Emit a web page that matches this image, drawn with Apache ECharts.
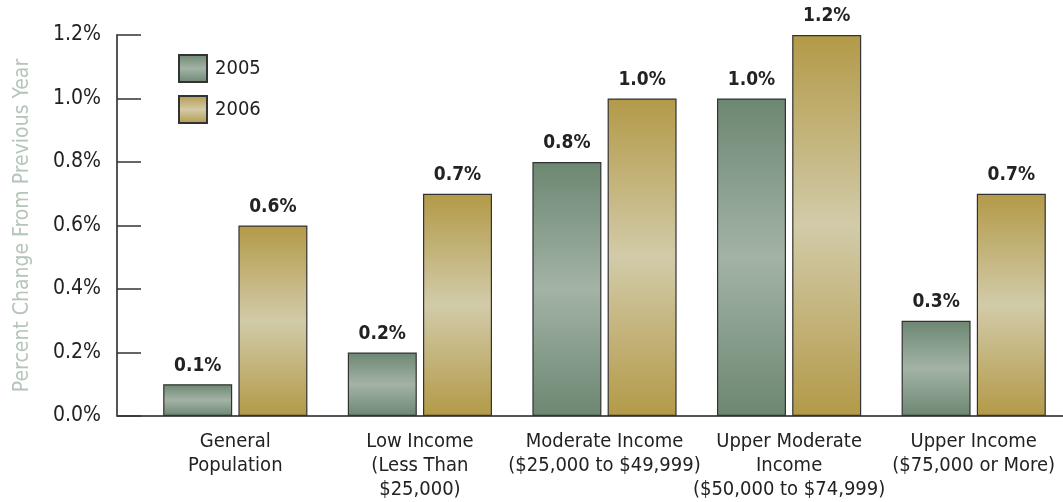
<!DOCTYPE html>
<html><head><meta charset="utf-8">
<script src="https://cdn.jsdelivr.net/npm/echarts@6/dist/echarts.min.js"></script>
<style>html,body{margin:0;padding:0;background:#fff}#c{width:1063px;height:502px}</style>
</head><body><div id="c"></div>
<script>
var categories = ['General\nPopulation', 'Low Income\n(Less Than\n$25,000)', 'Moderate Income\n($25,000 to $49,999)', 'Upper Moderate\nIncome\n($50,000 to $74,999)', 'Upper Income\n($75,000 or More)'];
var seriesNames = ['2005', '2006'];
var values2005 = [0.1, 0.2, 0.8, 1.0, 0.3];
var values2006 = [0.6, 0.7, 1.0, 1.2, 0.7];
var yTicks = [0, 0.2, 0.4, 0.6, 0.8, 1.0, 1.2];

var FONT = "'DejaVu Sans Condensed','Liberation Sans Narrow',sans-serif";
function grad(dark, light) {
  return new echarts.graphic.LinearGradient(0, 0, 0, 1, [
    {offset: 0, color: dark}, {offset: 0.5, color: light}, {offset: 1, color: dark}
  ]);
}
var chart = echarts.init(document.getElementById('c'), null, {renderer: 'canvas'});
var labelCfg = {show: true, position: 'top', distance: 9, fontFamily: FONT, fontWeight: 'bold', fontSize: 19, color: '#222',
  formatter: function (p) { return p.value.toFixed(1) + '%'; }};
chart.setOption({
  animation: false,
  textStyle: {fontFamily: FONT},
  grid: {left: 143, top: 35, width: 923, bottom: 86, containLabel: false, outerBoundsMode: 'none'},
  legend: {
    orient: 'vertical', left: 173, top: 49, itemWidth: 28, itemHeight: 27, itemGap: 12, icon: 'rect',
    textStyle: {fontFamily: FONT, fontSize: 20, color: '#222', padding: [0, 0, 0, 3]},
    data: seriesNames
  },
  xAxis: {
    type: 'category', data: categories,
    axisLine: {show: true, lineStyle: {color: '#555', width: 2}},
    axisTick: {show: false},
    axisLabel: {interval: 0, margin: 14, fontFamily: FONT, fontSize: 20, lineHeight: 24, color: '#222'}
  },
  yAxis: {
    type: 'value', min: 0, max: 1.2, interval: 0.2, offset: 26,
    name: 'Percent Change From Previous Year', nameLocation: 'middle', nameGap: 84, nameRotate: 90,
    nameTextStyle: {fontFamily: FONT, fontSize: 21, color: '#b5c5b9'},
    axisLine: {show: true, lineStyle: {color: '#555', width: 2}},
    axisTick: {show: true, inside: true, length: 24, lineStyle: {color: '#333', width: 1.5}},
    splitLine: {show: false},
    axisLabel: {margin: 16, fontFamily: FONT, fontSize: 21, color: '#222',
      formatter: function (v) { return v.toFixed(1) + '%'; }}
  },
  series: [
    {name: seriesNames[0], type: 'bar', data: values2005, barWidth: 69, barGap: '9%',
      itemStyle: {color: grad('#6c8772', '#a3b3a6'), borderColor: '#333', borderWidth: 1.2},
      label: labelCfg},
    {name: seriesNames[1], type: 'bar', data: values2006, barWidth: 69,
      itemStyle: {color: grad('#b39a48', '#d2cba9'), borderColor: '#333', borderWidth: 1.2},
      label: labelCfg}
  ]
});
var p0 = chart.convertToPixel({gridIndex: 0}, [0, 0]);
var gridLeft = 143;
chart.setOption({graphic: [{type: 'line', shape: {x1: gridLeft - 26, y1: p0[1], x2: gridLeft, y2: p0[1]},
  style: {stroke: '#555', lineWidth: 2}, silent: true}]});
</script></body></html>
